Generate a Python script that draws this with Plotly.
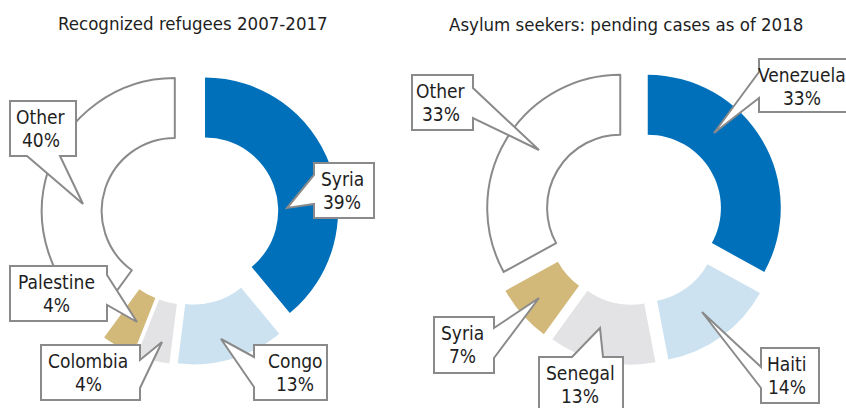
import plotly.graph_objects as go

W, H = 846, 408

# Data
refugee_labels = ["Syria", "Congo", "Colombia", "Palestine", "Other"]
refugee_shares = [39, 13, 4, 4, 40]

asylum_labels = ["Venezuela", "Haiti", "Senegal", "Syria", "Other"]
asylum_shares = [33, 14, 13, 7, 33]

chart_titles = ["Recognized refugees 2007-2017", "Asylum seekers: pending cases as of 2018"]

# Styling
slice_colors = ["#0070BA", "#CCE2F1", "#E3E3E5", "#D2B97A", "#FFFFFF"]
outline_color = "#8A8A8A"
text_color = "#1E1E1E"
FONT = "DejaVu Sans Condensed, Liberation Sans Narrow, sans-serif"
TITLE_SIZE = 18.5
LABEL_SIZE = 19

# Pie placement in pixels: centre and half-size of each domain
pie_centers = [(190, 216), (634, 216)]
pie_half = 149
title_pos = [(192.5, 23.5), (626, 24)]

# Callout boxes: box (x0, y0, x1, y1), edge carrying the pointer,
# pointer base span along that edge, pointer tip, and text centre x
refugee_callouts = {
    "Other":     dict(box=(10, 101, 76, 156), edge="bottom", base=(27, 60), tip=(83, 204), tx=41),
    "Syria":     dict(box=(314, 163, 374, 218), edge="left", base=(175, 204), tip=(287, 208), tx=342),
    "Palestine": dict(box=(10, 266, 107, 321), edge="right", base=(275, 305), tip=(137, 322), tx=56.5),
    "Colombia":  dict(box=(41, 345, 140, 400), edge="right", base=(360, 388), tip=(162, 342), tx=88),
    "Congo":     dict(box=(254, 345, 327, 400), edge="left", base=(357, 387), tip=(221, 339), tx=295),
}
asylum_callouts = {
    "Other":     dict(box=(412, 75, 473, 130), edge="right", base=(88, 118), tip=(539, 150), tx=440.5),
    "Venezuela": dict(box=(759, 59, 852, 112), edge="left", base=(72, 98), tip=(714, 133), tx=802),
    "Haiti":     dict(box=(761, 348, 819, 403), edge="left", base=(367, 388), tip=(702, 312), tx=786.5),
    "Senegal":   dict(box=(539, 357, 623, 412), edge="top", base=(572, 603), tip=(600, 328), tx=580),
    "Syria":     dict(box=(434, 317, 494, 373), edge="right", base=(328, 358), tip=(539, 298), tx=462),
}


def callout_path(box, edge, base, tip):
    x0, y0, x1, y1 = box
    a, b = base
    tx, ty = tip
    pts = [(x0, y0)]
    if edge == "top":
        pts += [(a, y0), (tx, ty), (b, y0)]
    pts.append((x1, y0))
    if edge == "right":
        pts += [(x1, a), (tx, ty), (x1, b)]
    pts.append((x1, y1))
    if edge == "bottom":
        pts += [(b, y1), (tx, ty), (a, y1)]
    pts.append((x0, y1))
    if edge == "left":
        pts += [(x0, b), (tx, ty), (x0, a)]
    return "M " + " L ".join(f"{x},{y}" for x, y in pts) + " Z"


fig = go.Figure()

datasets = [
    (refugee_labels, refugee_shares, refugee_callouts),
    (asylum_labels, asylum_shares, asylum_callouts),
]

for i, (labels, shares, callouts) in enumerate(datasets):
    cx, cy = pie_centers[i]
    fig.add_trace(go.Pie(
        labels=labels,
        values=shares,
        sort=False,
        direction="clockwise",
        rotation=0,
        hole=0.55,
        pull=[0.12] * len(shares),
        textinfo="none",
        hoverinfo="label+percent",
        showlegend=False,
        marker=dict(
            colors=slice_colors,
            line=dict(
                color=[outline_color] * len(shares),
                width=[2 if c == "#FFFFFF" else 0 for c in slice_colors],
            ),
        ),
        domain=dict(
            x=[(cx - pie_half) / W, (cx + pie_half) / W],
            y=[1 - (cy + pie_half) / H, 1 - (cy - pie_half) / H],
        ),
    ))

    tx, ty = title_pos[i]
    fig.add_annotation(
        x=tx, y=ty, xref="x", yref="y", text=chart_titles[i], showarrow=False,
        xanchor="center", yanchor="middle",
        font=dict(family=FONT, size=TITLE_SIZE, color=text_color),
    )

    for label, share in zip(labels, shares):
        c = callouts[label]
        fig.add_shape(
            type="path", xref="x", yref="y",
            path=callout_path(c["box"], c["edge"], c["base"], c["tip"]),
            fillcolor="white", line=dict(color=outline_color, width=2),
            layer="above",
        )
        top = c["box"][1]
        for text, dy in ((label, 15.5), (f"{share}%", 39)):
            fig.add_annotation(
                x=c["tx"], y=top + dy, xref="x", yref="y", text=text,
                showarrow=False, xanchor="center", yanchor="middle",
                font=dict(family=FONT, size=LABEL_SIZE, color=text_color),
            )

# Hidden pixel-scaled axes used to place the callouts and titles
fig.update_xaxes(range=[0, W], visible=False, fixedrange=True)
fig.update_yaxes(range=[H, 0], visible=False, fixedrange=True)

fig.update_layout(
    width=W, height=H,
    margin=dict(l=0, r=0, t=0, b=0),
    paper_bgcolor="white", plot_bgcolor="white",
    showlegend=False,
)

fig.write_html("out.html")
